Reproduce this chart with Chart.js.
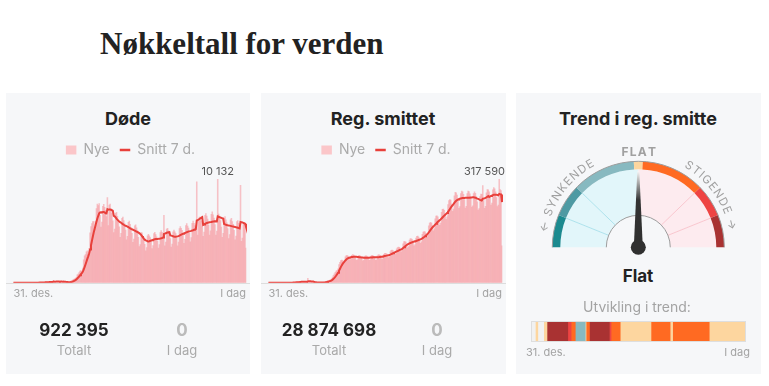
<!DOCTYPE html>
<html>
<head>
<meta charset="utf-8">
<script src="https://cdn.jsdelivr.net/npm/chart.js@4.4.1/dist/chart.umd.min.js"></script>
<style>
  body { margin: 0; background: #fff; font-family: Inter, sans-serif; }
  #page { position: relative; width: 769px; height: 386px; overflow: hidden; }
  .panel { position: absolute; top: 93px; height: 281px; background: #f6f7f9; }
  .txt { position: absolute; width: 200px; text-align: center; white-space: nowrap; }
  .title { font-weight: 700; font-size: 18px; color: #222; line-height: 24px; }
  .big { font-weight: 700; font-size: 17px; color: #222; line-height: 20px; }
  .big.zero { color: #bbb; }
  .small { font-size: 13px; color: #aaa; line-height: 16px; }
  canvas { position: absolute; }
  h1 { position: absolute; left: 100px; top: 28px; margin: 0; font-family: "Liberation Serif", serif;
       font-weight: 700; font-size: 31px; line-height: 31px; color: #222; }
</style>
</head>
<body>
<div id="page">
  <h1>Nøkkeltall for verden</h1>
  <div class="panel" style="left:6px;width:244px"></div>
  <div class="panel" style="left:261px;width:245px"></div>
  <div class="panel" style="left:516px;width:245px"></div>

  <div class="txt title" style="left:28px;top:107px">Døde</div>
  <div class="txt title" style="left:283px;top:107px">Reg. smittet</div>
  <div class="txt title" style="left:538px;top:107px">Trend i reg. smitte</div>

  <canvas id="deaths" width="244" height="171" style="left:6px;top:133px"></canvas>
  <canvas id="cases" width="245" height="171" style="left:261px;top:133px"></canvas>
  <canvas id="gauge" width="245" height="120" style="left:516px;top:140px"></canvas>
  <canvas id="trend" width="213" height="19" style="left:532px;top:322px;outline:1px solid #dedede"></canvas>

  <div class="txt big" style="left:-26px;top:320px">922 395</div>
  <div class="txt small" style="left:-26px;top:342px">Totalt</div>
  <div class="txt big zero" style="left:82px;top:320px">0</div>
  <div class="txt small" style="left:82px;top:342px">I dag</div>

  <div class="txt big" style="left:229px;top:320px">28 874 698</div>
  <div class="txt small" style="left:229px;top:342px">Totalt</div>
  <div class="txt big zero" style="left:337px;top:320px">0</div>
  <div class="txt small" style="left:337px;top:342px">I dag</div>

  <div class="txt" style="left:538px;top:265px;font-weight:700;font-size:17px;color:#222;line-height:22px">Flat</div>
  <div class="txt" style="left:537px;top:298px;font-size:14px;color:#a3a3a3;line-height:18px">Utvikling i trend:</div>
  <div style="position:absolute;left:526px;top:345px;font-size:11px;color:#a3a3a3;line-height:14px">31. des.</div>
  <div style="position:absolute;right:19px;top:345px;font-size:11px;color:#a3a3a3;line-height:14px">I dag</div>
</div>

<script>
// Nye dødsfall per dag, 31. des. -> i dag
const deathsNew = [
  0,0,0,0,0,0,0,
  0,0,0,0,1,0,0,
  0,0,0,0,0,1,1,
  3,9,17,8,16,15,24,
  26,26,38,43,46,45,57,
  64,66,73,73,86,89,97,
  108,97,254,13,143,142,106,
  98,139,115,118,109,98,150,
  71,52,29,44,47,60,90,
  157,219,275,347,399,406,527,
  784,863,990,1155,1188,1092,1445,
  2240,2645,2772,3045,3135,2886,3383,
  4900,5500,5800,6000,6000,5300,6000,
  7280,7705,7579,7760,6612,5452,5950,
  7500,7700,7400,7100,6500,8350,5600,
  7616,7705,7227,6804,6080,4914,5270,
  6810,6900,6523,6143,5491,4462,4845,
  6328,6440,6105,5775,5168,4212,4548,
  5936,6038,5720,5408,4855,3955,4276,
  5589,5693,5390,5093,4465,3549,3740,
  4928,4888,4510,4179,3781,3136,3451,
  4592,4761,4598,4431,4047,3354,3655,
  4816,4945,4730,4515,4085,3393,3757,
  4928,5118,4950,4778,6600,3627,3995,
  5264,5348,5093,4830,4332,3510,3791,
  4995,5175,5005,4830,4399,3635,3995,
  5320,5520,5335,5145,4703,3861,4250,
  5600,5808,5555,5355,4855,4017,4420,
  5824,6038,5830,5618,5130,9900,4675,
  6216,6440,6270,6038,5510,4563,4973,
  6608,6785,6545,6248,5653,4680,5100,
  6720,6958,6655,6353,5700,4680,5058,
  10132,6728,6380,6090,5463,4446,4845,
  6328,6498,6160,5880,5320,4329,4718,
  6160,6325,5995,5723,5130,4212,4590,
  5992,6095,5830,5513,9550,4056,4378,
  5712,5808,5500,3400
];

// Nye registrerte smittede per dag
const casesNew = [
  27,0,0,0,0,0,0,
  0,0,0,0,1,0,0,
  0,0,4,17,136,19,151,
  140,97,259,457,688,769,1771,
  1459,1737,1981,2099,2589,2825,3235,
  3884,3694,3143,3385,2652,2973,2467,
  2015,14108,5090,2641,2008,2048,1888,
  1749,1126,664,1014,580,770,617,
  834,938,1300,1500,1800,1900,2200,
  4200,5400,6634,7800,8624,8976,12150,
  17850,22680,27285,32240,36260,38192,43200,
  55650,63180,68480,69680,68600,63800,67500,
  79800,83376,83888,82160,77910,70400,72360,
  84210,86400,85279,82576,77420,69256,70560,
  82005,84024,82925,80288,75362,67408,68760,
  80430,83052,82604,80600,76244,68728,70560,
  82320,84672,83888,81536,76832,68992,70650,
  82950,85968,85814,84032,79772,72160,74430,
  87570,90828,90629,88816,84672,76912,79560,
  94920,99360,100152,99008,94864,86592,89190,
  104685,108432,109568,108576,104272,95480,100260,
  120015,126576,126902,124696,118776,107800,111420,
  131250,135648,135355,132496,125734,113696,117090,
  137550,142992,143166,140608,133868,121440,125640,
  149100,155952,157290,156520,151410,139656,146250,
  174615,183600,185966,183456,175420,159808,165780,
  196140,204768,205868,203008,194040,176704,183150,
  216510,225504,226305,222560,213346,194920,202680,
  240450,252720,255730,253760,242060,219560,226800,
  267225,277560,276060,269360,254310,228800,234450,
  274050,281880,279270,271440,255780,229680,234900,
  274050,281880,280340,273520,258720,232320,236700,
  274050,279720,274990,265200,248920,223080,227700,
  264600,272160,271780,299000,252840,228800,234900,
  276150,286200,285690,279760,264600,238480,244800,
  285600,292680,288900,279240,261660,234080,238500,
  317590,286200,283550,113600
];

const xTickLabels = ['31. des.', 'I dag'];
const seriesNames = ['Nye', 'Snitt 7 d.'];

// trend-måler
const gaugeLabels = ['Kraftig synkende', 'Synkende', 'Svakt synkende', 'Flat', 'Svakt stigende', 'Stigende', 'Kraftig stigende'];
const gaugeSizes = [22, 22, 43, 6, 43, 22, 22];
const currentTrend = 'Flat';

// utvikling i trend, antall dager per periode
const trendKinds = ['ingen', 'flat', 'ingen', 'flat', 'kraftig stigende', 'stigende', 'svakt stigende', 'svakt synkende',
  'flat', 'svakt stigende', 'kraftig stigende', 'stigende', 'svakt stigende', 'flat', 'svakt stigende', 'flat',
  'svakt stigende', 'flat'];
const trendDays = [4, 3, 7, 4, 25, 4, 5, 12, 1, 4, 24, 2, 11, 37, 23, 3, 44, 43];

const trendColors = {
  'ingen': '#f1f1f1',
  'kraftig synkende': '#1b8a8f',
  'synkende': '#4e9aa3',
  'svakt synkende': '#87b9c0',
  'flat': '#fdd69f',
  'svakt stigende': '#ff6a22',
  'stigende': '#ee4443',
  'kraftig stigende': '#a93232'
};
const gaugeColors = ['#1b8a8f', '#4e9aa3', '#87b9c0', '#fdd69f', '#ff6a22', '#ee4443', '#a93232'];

const panelBg = '#f6f7f9';
const lineColor = '#e8403b';

const fmt = v => String(v).replace(/\B(?=(\d{3})+(?!\d))/g, ' ');

function rolling7(arr) {
  return arr.map((v, i) => {
    const part = arr.slice(Math.max(0, i - 6), i + 1);
    return part.reduce((a, b) => a + b, 0) / part.length;
  });
}

const peakLabel = {
  id: 'peakLabel',
  afterDatasetsDraw(chart) {
    const data = chart.data.datasets[0].data;
    let iMax = 0;
    data.forEach((v, i) => { if (v > data[iMax]) iMax = i; });
    const bar = chart.getDatasetMeta(0).data[iMax];
    const ctx = chart.ctx;
    const txt = fmt(data[iMax]);
    ctx.save();
    ctx.font = '11px Inter';
    const w = ctx.measureText(txt).width;
    const x = Math.min(bar.x, chart.width - w / 2 - 1);
    const y = bar.y - 8;
    ctx.fillStyle = panelBg;
    ctx.fillRect(x - w / 2 - 2, y - 7, w + 4, 14);
    ctx.fillStyle = '#555';
    ctx.textAlign = 'center';
    ctx.textBaseline = 'middle';
    ctx.fillText(txt, x, y);
    ctx.restore();
  }
};

const baseLine = {
  id: 'baseLine',
  beforeDatasetsDraw(chart) {
    const ctx = chart.ctx, y = Math.round(chart.chartArea.bottom) + 0.5;
    ctx.save();
    ctx.strokeStyle = '#dddddd';
    ctx.lineWidth = 1;
    ctx.beginPath();
    ctx.moveTo(0, y);
    ctx.lineTo(chart.width, y);
    ctx.stroke();
    ctx.restore();
  }
};

function makeChart(id, daily) {
  const peak = Math.max(...daily);
  return new Chart(document.getElementById(id), {
    type: 'bar',
    data: {
      labels: daily.map((v, i) => i),
      datasets: [
        {
          label: seriesNames[0],
          data: daily,
          backgroundColor: 'rgba(246,150,156,0.55)',
          borderWidth: 0,
          barPercentage: 1,
          categoryPercentage: 1,
          order: 2
        },
        {
          type: 'line',
          label: seriesNames[1],
          data: rolling7(daily),
          borderColor: lineColor,
          borderWidth: 2,
          pointRadius: 0,
          tension: 0,
          order: 1
        }
      ]
    },
    options: {
      responsive: false,
      animation: false,
      layout: { padding: { left: 7, right: 2 } },
      plugins: {
        tooltip: { enabled: false },
        legend: {
          labels: {
            usePointStyle: true,
            pointStyleWidth: 10.5,
            boxHeight: 9,
            padding: 10,
            color: '#aaa',
            font: { family: 'Inter', size: 14 },
            sort: (a, b) => a.datasetIndex - b.datasetIndex,
            generateLabels(chart) {
              const items = Chart.defaults.plugins.legend.labels.generateLabels(chart);
              items.forEach(it => {
                if (it.datasetIndex === 0) {
                  it.pointStyle = 'rect';
                  it.fillStyle = '#fbc6c9';
                  it.strokeStyle = '#fbc6c9';
                  it.lineWidth = 0;
                } else {
                  it.pointStyle = 'line';
                  it.strokeStyle = lineColor;
                  it.lineWidth = 2.5;
                }
              });
              return items;
            }
          }
        }
      },
      scales: {
        x: {
          grid: { display: false, drawTicks: false },
          border: { display: false },
          ticks: {
            autoSkip: false,
            maxRotation: 0,
            align: 'inner',
            padding: 4,
            color: '#a3a3a3',
            font: { family: 'Inter', size: 11 },
            callback: (v, i, ticks) => i === 0 ? xTickLabels[0] : (i === ticks.length - 1 ? xTickLabels[1] : null)
          }
        },
        y: { display: false, min: 0, max: peak * 1.12 }
      }
    },
    plugins: [peakLabel, baseLine]
  });
}

makeChart('deaths', deathsNew);
makeChart('cases', casesNew);

// ---------- måler ----------
function arcText(ctx, text, cx, cy, r, mid, spacing) {
  const chars = [...text];
  const widths = chars.map(ch => ctx.measureText(ch).width);
  const total = widths.reduce((a, b) => a + b, 0) + spacing * (chars.length - 1);
  let a = mid - total / r / 2;
  chars.forEach((ch, i) => {
    const ac = a + widths[i] / 2 / r;
    ctx.save();
    ctx.translate(cx + r * Math.cos(ac), cy + r * Math.sin(ac));
    ctx.rotate(ac + Math.PI / 2);
    ctx.fillText(ch, 0, 0);
    ctx.restore();
    a += (widths[i] + spacing) / r;
  });
}

const gaugeDecor = {
  id: 'gaugeDecor',
  afterDatasetsDraw(chart) {
    const ctx = chart.ctx;
    const band = chart.getDatasetMeta(0).data;
    const fill = chart.getDatasetMeta(1).data;
    const cx = band[0].x, cy = band[0].y;
    const R = band[0].outerRadius, rBand = band[0].innerRadius, rIn = fill[0].innerRadius;

    ctx.save();
    // skillelinjer i feltet
    fill.forEach((arc, i) => {
      if (i === 0 || i === 3) return;
      const a = arc.startAngle;
      ctx.strokeStyle = i < 3 ? '#ade2ec' : '#f9c6ce';
      ctx.lineWidth = 1;
      ctx.beginPath();
      ctx.moveTo(cx + rIn * Math.cos(a), cy + rIn * Math.sin(a));
      ctx.lineTo(cx + rBand * Math.cos(a), cy + rBand * Math.sin(a));
      ctx.stroke();
    });
    // omriss
    ctx.strokeStyle = '#9c9c9c';
    ctx.lineWidth = 1;
    ctx.beginPath(); ctx.arc(cx, cy, R, Math.PI, 2 * Math.PI); ctx.stroke();
    ctx.beginPath(); ctx.arc(cx, cy, rIn, Math.PI, 2 * Math.PI); ctx.stroke();

    // nål
    const seg = band[gaugeLabels.indexOf(currentTrend)];
    const ang = (seg.startAngle + seg.endAngle) / 2;
    const len = rBand - 2;
    const tx = cx + len * Math.cos(ang), ty = cy + len * Math.sin(ang);
    const px = -Math.sin(ang), py = Math.cos(ang);
    const grad = ctx.createLinearGradient(cx, cy, tx, ty);
    grad.addColorStop(0, '#2f2f2f');
    grad.addColorStop(0.62, '#333');
    grad.addColorStop(1, '#f6f6f6');
    ctx.fillStyle = grad;
    ctx.beginPath();
    ctx.moveTo(cx + px * 4.5, cy + py * 4.5);
    ctx.lineTo(tx + px * 1, ty + py * 1);
    ctx.lineTo(tx - px * 1, ty - py * 1);
    ctx.lineTo(cx - px * 4.5, cy - py * 4.5);
    ctx.closePath();
    ctx.fill();
    ctx.fillStyle = '#303030';
    ctx.beginPath(); ctx.arc(cx, cy, 7.5, 0, 2 * Math.PI); ctx.fill();

    // tekster
    ctx.fillStyle = '#a0a0a0';
    ctx.textAlign = 'center';
    ctx.textBaseline = 'middle';
    ctx.font = '11.5px Inter';
    arcText(ctx, '← SYNKENDE', cx, cy, R + 10, Math.PI * 1.197, 1.3);
    arcText(ctx, 'STIGENDE →', cx, cy, R + 10, Math.PI * 1.803, 1.3);
    ctx.font = '700 12px Inter';
    arcText(ctx, 'FLAT', cx + 0.5, cy + 40000, 40000 + R + 9, Math.PI * 1.5, 1.2);
    ctx.restore();
  }
};

new Chart(document.getElementById('gauge'), {
  type: 'doughnut',
  data: {
    labels: gaugeLabels,
    datasets: [
      { data: gaugeSizes, backgroundColor: gaugeColors, borderWidth: 0, weight: 8 },
      {
        data: [22, 22, 46, 46, 22, 22],
        backgroundColor: ['#e2f6fa', '#e2f6fa', '#e2f6fa', '#fdebef', '#fdebef', '#fdebef'],
        borderWidth: 0,
        weight: 46
      }
    ]
  },
  options: {
    responsive: false,
    animation: false,
    rotation: -90,
    circumference: 180,
    cutout: '37.2%',
    layout: { padding: { left: 36.3, right: 36.7, top: 21.3, bottom: 12.7 } },
    plugins: { legend: { display: false }, tooltip: { enabled: false } }
  },
  plugins: [gaugeDecor]
});

// ---------- utvikling i trend ----------
new Chart(document.getElementById('trend'), {
  type: 'bar',
  data: {
    labels: ['trend'],
    datasets: trendKinds.map((k, i) => ({
      label: k,
      data: [trendDays[i]],
      backgroundColor: trendColors[k],
      borderWidth: 0,
      barPercentage: 1,
      categoryPercentage: 1,
      stack: 's'
    }))
  },
  options: {
    indexAxis: 'y',
    responsive: false,
    animation: false,
    plugins: { legend: { display: false }, tooltip: { enabled: false } },
    scales: {
      x: { display: false, stacked: true, min: 0, max: trendDays.reduce((a, b) => a + b, 0) },
      y: { display: false, stacked: true }
    }
  }
});
</script>
</body>
</html>
